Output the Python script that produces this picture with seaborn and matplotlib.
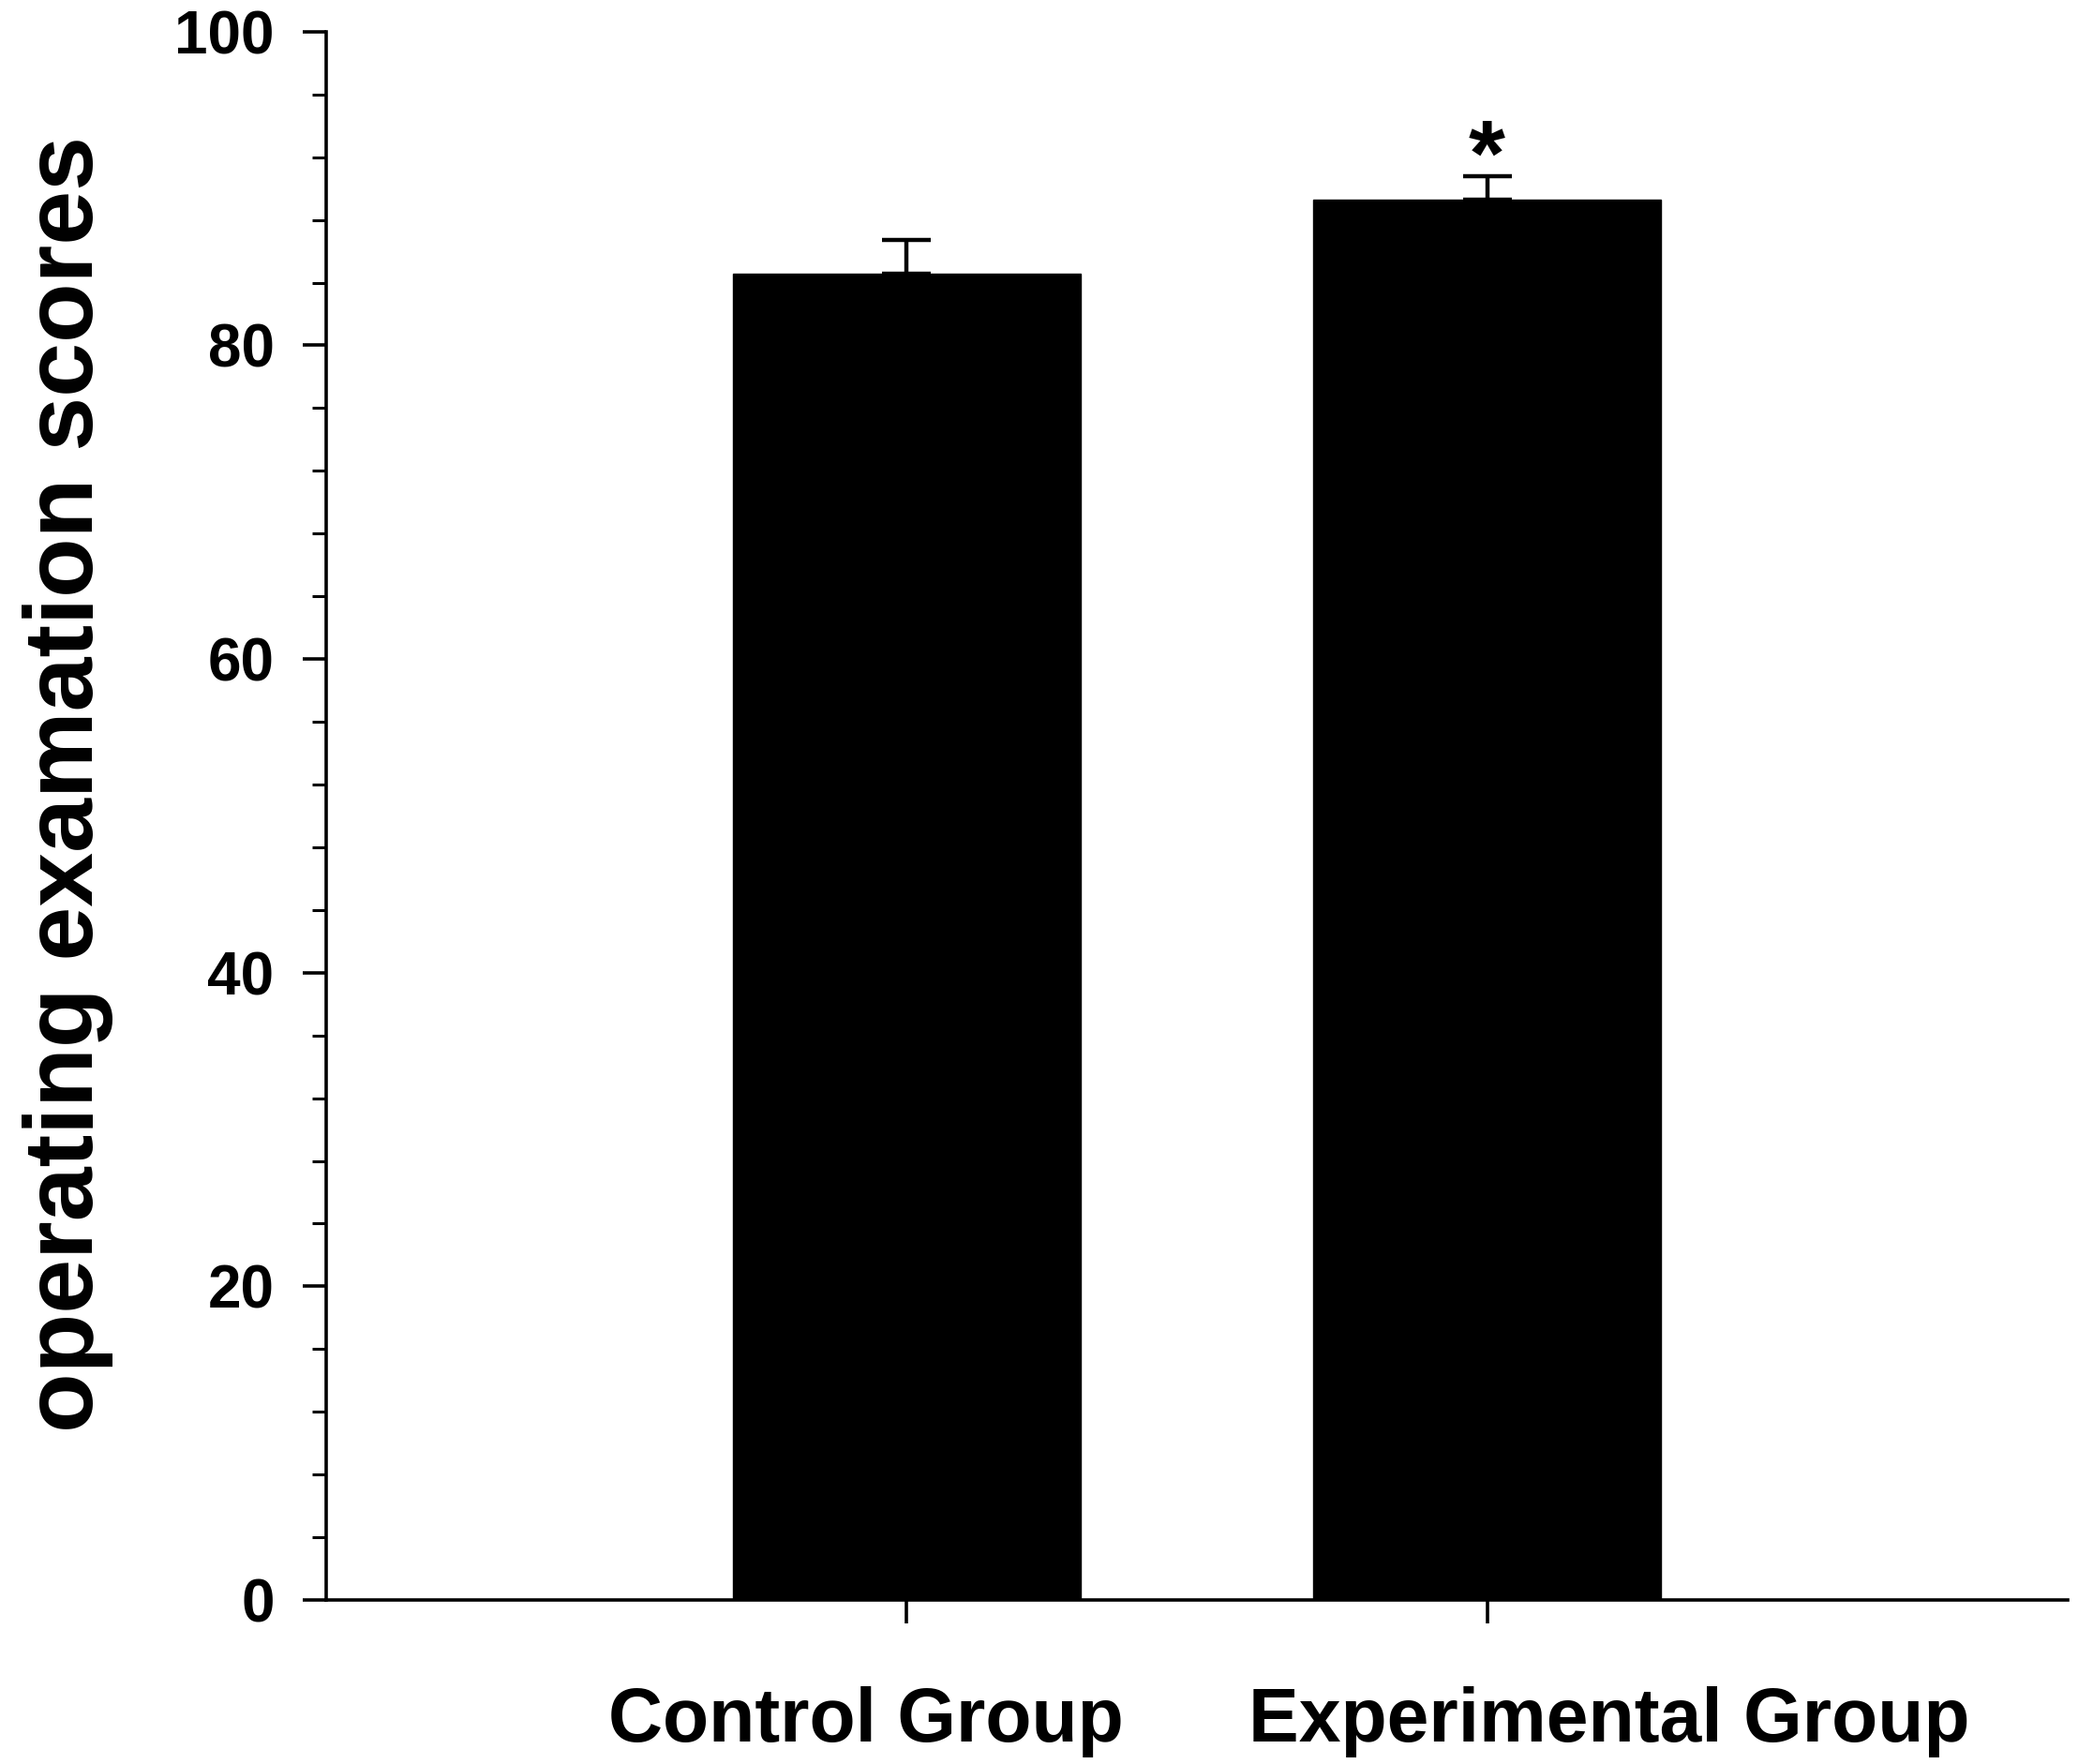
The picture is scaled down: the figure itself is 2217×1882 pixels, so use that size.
import numpy as np
import pandas as pd
import matplotlib
matplotlib.use("Agg")
import matplotlib.pyplot as plt
import matplotlib.transforms as mtransforms
import seaborn as sns
from matplotlib.ticker import MultipleLocator

# Data
groups = ["Control Group", "Experimental Group"]
scores = [84.6, 89.3]
sem = [2.1, 1.5]
marks = ["", "*"]

sns.set_style("ticks")
plt.rcParams["font.family"] = ["Liberation Sans", "DejaVu Sans"]
plt.rcParams["font.weight"] = "bold"
plt.rcParams["text.color"] = "black"
plt.rcParams["axes.labelcolor"] = "black"
plt.rcParams["xtick.color"] = "black"
plt.rcParams["ytick.color"] = "black"

df = pd.DataFrame({"group": groups, "score": scores})

fig = plt.figure(figsize=(22.17, 18.82), dpi=100)
ax = fig.add_axes([0.157, 0.093, 0.838, 0.889])

sns.barplot(data=df, x="group", y="score", color="black", width=0.6,
            saturation=1, errorbar=None, ax=ax)
for p in ax.patches:
    p.set_edgecolor("black")

# upper error bars only (bars hide the lower half)
xpos = np.arange(len(groups))
ax.errorbar(xpos, scores, yerr=[np.zeros(len(sem)), sem], fmt="none",
            ecolor="black", elinewidth=3.2, capsize=19, capthick=3.2)
for x, s, e, m in zip(xpos, scores, sem, marks):
    if m:
        ax.text(x, s + 0.9, m, ha="center", va="baseline",
                fontsize=72, fontweight="bold")

ax.set_xlim(-1, 2)
ax.set_ylim(0, 100)
ax.yaxis.set_major_locator(MultipleLocator(20))
ax.yaxis.set_minor_locator(MultipleLocator(4))

sns.despine(ax=ax)
for side in ["left", "bottom"]:
    ax.spines[side].set_linewidth(2.6)
    ax.spines[side].set_color("black")

ax.tick_params(axis="y", which="major", length=18, width=2.6, labelsize=46, pad=22)
ax.tick_params(axis="y", which="minor", length=11, width=2.2)
ax.tick_params(axis="x", which="major", length=18, width=2.6, labelsize=58, pad=48)
for lab in ax.get_xticklabels() + ax.get_yticklabels():
    lab.set_fontweight("bold")

# x labels sit slightly off the bar centres in the original
shifts = [-31, 94]
for lab, dx in zip(ax.get_xticklabels(), shifts):
    lab.set_transform(lab.get_transform() +
                      mtransforms.ScaledTranslation(dx / 72, 0, fig.dpi_scale_trans))

ax.set_xlabel("")
ax.set_ylabel("operating examation scores", fontsize=75, fontweight="bold")
ax.yaxis.set_label_coords(-0.122, 0.52)

fig.savefig("out.png", dpi=100, facecolor="white")
